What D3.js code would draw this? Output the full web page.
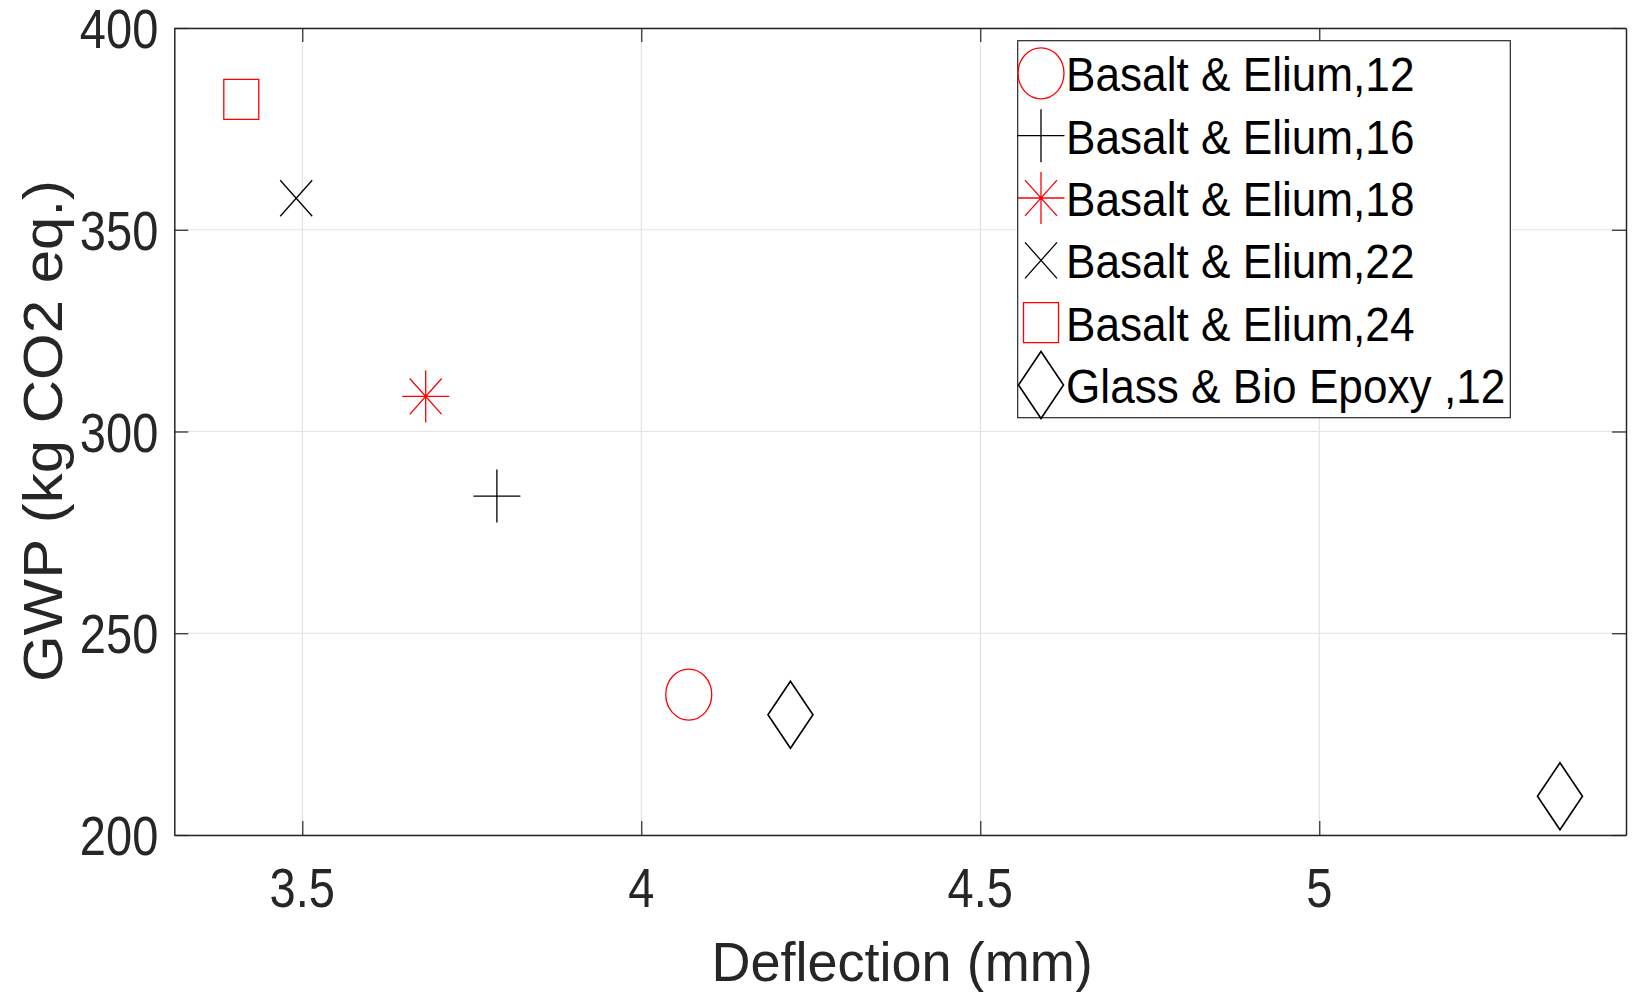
<!DOCTYPE html>
<html>
<head>
<meta charset="utf-8">
<script src="https://cdn.jsdelivr.net/npm/d3@7"></script>
<style>
  body { margin: 0; background: #fff; }
  text { font-family: "Liberation Sans", Arial, sans-serif; }
</style>
</head>
<body>
<div id="chart"></div>
<script>
// data
const seriesNames = ["Basalt & Elium,12", "Basalt & Elium,16", "Basalt & Elium,18",
                     "Basalt & Elium,22", "Basalt & Elium,24", "Glass & Bio Epoxy ,12"];
const seriesMarkers = ["circle", "plus", "asterisk", "cross", "square", "diamond"];
const deflection = [[4.070], [3.787], [3.682], [3.491], [3.410], [4.220, 5.355]];
const gwp = [[234.8], [284.0], [308.7], [357.8], [382.3], [229.8, 209.6]];
const xTicks = [3.5, 4, 4.5, 5];
const yTicks = [200, 250, 300, 350, 400];
const xLabel = "Deflection (mm)";
const yLabel = "GWP (kg CO2 eq.)";

// styles
const markerColor = {circle: "#ff0000", plus: "#000", asterisk: "#ff0000",
                     cross: "#000", square: "#ff0000", diamond: "#000"};
const markerSize = {circle: [46, 51], plus: [47, 53], asterisk: [47, 52],
                    cross: [32, 36], square: [35, 40], diamond: [45, 67]};

const W = 1635, H = 992;
const plot = {left: 174.3, right: 1626, top: 28, bottom: 835};

const svg = d3.select("#chart").append("svg")
  .attr("width", W).attr("height", H);

const x = d3.scaleLinear().domain([3.3112, 5.4524]).range([plot.left, plot.right]);
const y = d3.scaleLinear().domain([200, 400]).range([plot.bottom, plot.top]);

// grid
svg.append("g").selectAll("line").data(xTicks).enter().append("line")
  .attr("x1", d => x(d)).attr("x2", d => x(d))
  .attr("y1", plot.top).attr("y2", plot.bottom)
  .attr("stroke", "#dcdcdc").attr("stroke-width", 1);
svg.append("g").selectAll("line").data(yTicks).enter().append("line")
  .attr("x1", plot.left).attr("x2", plot.right)
  .attr("y1", d => y(d)).attr("y2", d => y(d))
  .attr("stroke", "#e3e3e3").attr("stroke-width", 1);

// axes (ticks inside, box on)
const tickLen = 14;
const axisColor = "#262626";
const xAxisB = d3.axisBottom(x).tickValues(xTicks).tickSizeInner(-tickLen).tickSizeOuter(0).tickFormat("");
const xAxisT = d3.axisTop(x).tickValues(xTicks).tickSizeInner(-tickLen).tickSizeOuter(0).tickFormat("");
const yAxisL = d3.axisLeft(y).tickValues(yTicks).tickSizeInner(-tickLen).tickSizeOuter(0).tickFormat("");
const yAxisR = d3.axisRight(y).tickValues(yTicks).tickSizeInner(-tickLen).tickSizeOuter(0).tickFormat("");

[[xAxisB, `translate(0,${plot.bottom})`], [xAxisT, `translate(0,${plot.top})`],
 [yAxisL, `translate(${plot.left},0)`], [yAxisR, `translate(${plot.right},0)`]].forEach(([ax, tr]) => {
  const g = svg.append("g").attr("transform", tr).call(ax);
  g.select(".domain").attr("stroke", axisColor).attr("stroke-width", 1.5);
  g.selectAll(".tick line").attr("stroke", axisColor).attr("stroke-width", 1.2);
});

// tick labels
svg.append("g").selectAll("text").data(xTicks).enter().append("text")
  .attr("transform", d => `translate(${x(d)},${plot.bottom + 72}) scale(0.84,1)`)
  .attr("text-anchor", "middle")
  .attr("font-size", 56).attr("fill", axisColor)
  .text(d => d);
svg.append("g").selectAll("text").data(yTicks).enter().append("text")
  .attr("transform", d => `translate(${plot.left - 16},${y(d) + 20}) scale(0.84,1)`)
  .attr("text-anchor", "end")
  .attr("font-size", 56).attr("fill", axisColor)
  .text(d => d);

// axis labels
svg.append("text")
  .attr("transform", `translate(902,981) scale(0.965,1)`)
  .attr("text-anchor", "middle")
  .attr("font-size", 56).attr("fill", axisColor)
  .text(xLabel);
svg.append("text")
  .attr("transform", `translate(62,431) rotate(-90) scale(1,0.93)`)
  .attr("text-anchor", "middle")
  .attr("font-size", 60).attr("fill", axisColor)
  .text(yLabel);

// marker drawing
function drawMarker(g, type, cx, cy) {
  const [w, h] = markerSize[type];
  const hw = w / 2, hh = h / 2;
  const col = markerColor[type];
  let p;
  if (type === "circle") {
    g.append("ellipse").attr("cx", cx).attr("cy", cy).attr("rx", hw).attr("ry", hh)
      .attr("fill", "none").attr("stroke", col).attr("stroke-width", 1.3);
    return;
  }
  if (type === "plus") {
    p = `M${cx - hw},${cy}H${cx + hw}M${cx},${cy - hh}V${cy + hh}`;
  } else if (type === "cross") {
    p = `M${cx - hw},${cy - hh}L${cx + hw},${cy + hh}M${cx - hw},${cy + hh}L${cx + hw},${cy - hh}`;
  } else if (type === "asterisk") {
    const dx = hw * 0.68, dy = hh * 0.69;
    p = `M${cx - hw},${cy}H${cx + hw}M${cx},${cy - hh}V${cy + hh}` +
        `M${cx - dx},${cy - dy}L${cx + dx},${cy + dy}M${cx - dx},${cy + dy}L${cx + dx},${cy - dy}`;
  } else if (type === "square") {
    p = `M${cx - hw},${cy - hh}H${cx + hw}V${cy + hh}H${cx - hw}Z`;
  } else if (type === "diamond") {
    p = `M${cx},${cy - hh}L${cx + hw},${cy}L${cx},${cy + hh}L${cx - hw},${cy}Z`;
  }
  g.append("path").attr("d", p).attr("fill", "none")
    .attr("stroke", col).attr("stroke-width", type === "diamond" ? 1.6 : 1.3);
}

// points
const pts = svg.append("g");
seriesNames.forEach((name, i) => {
  deflection[i].forEach((dv, j) => {
    drawMarker(pts, seriesMarkers[i], x(dv), y(gwp[i][j]));
  });
});

// legend
const leg = {x: 1017.7, y: 40.7, w: 492.6, h: 377, row0: 73.3, step: 62.35, mx: 1041, tx: 1066};
const lg = svg.append("g");
lg.append("rect").attr("x", leg.x).attr("y", leg.y).attr("width", leg.w).attr("height", leg.h)
  .attr("fill", "#fff").attr("stroke", axisColor).attr("stroke-width", 1.2);
seriesNames.forEach((name, i) => {
  const cy = leg.row0 + i * leg.step;
  drawMarker(lg, seriesMarkers[i], leg.mx, cy);
  lg.append("text")
    .attr("transform", `translate(${leg.tx},${cy + 18}) scale(0.92,1)`)
    .attr("font-size", 48).attr("fill", "#000")
    .text(name);
});
</script>
</body>
</html>
